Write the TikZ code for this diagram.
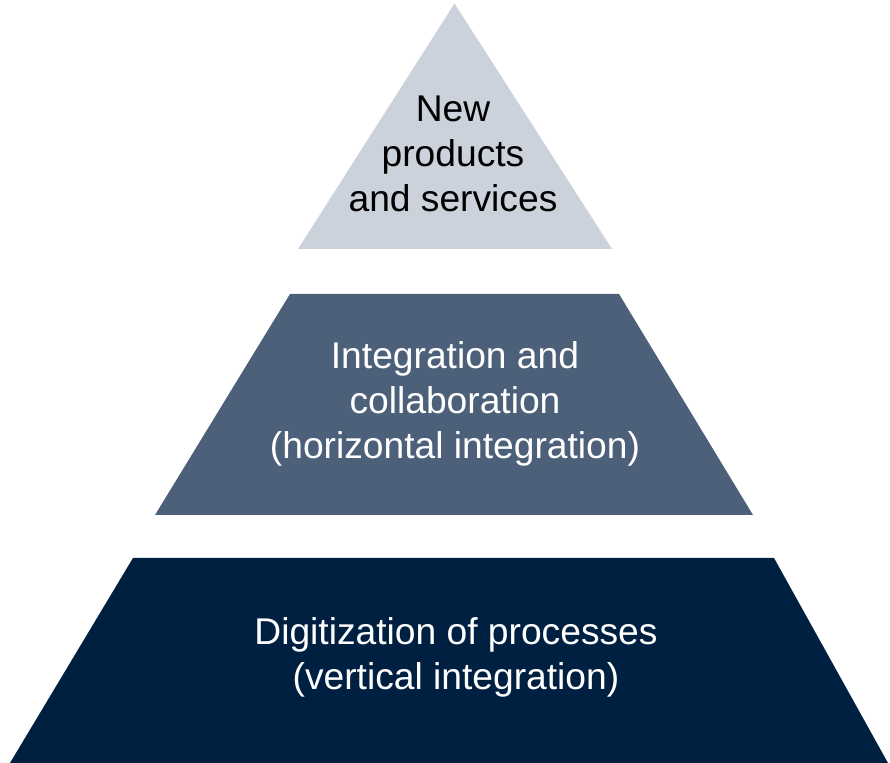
\documentclass[tikz,border=0pt]{standalone}
\usepackage{fontspec}
\setmainfont{Liberation Sans}
\definecolor{toplevel}{RGB}{203,210,219}
\definecolor{midlevel}{RGB}{77,96,122}
\definecolor{baselevel}{RGB}{0,32,65}

\begin{document}
\begin{tikzpicture}[x=0.5pt,y=-0.5pt,
  label/.style={align=center,font=\fontsize{18.6}{22.5}\selectfont,inner sep=0pt}]
\useasboundingbox (0,0) rectangle (890,763);

\fill[toplevel] (454.5,3.5) -- (612,249) -- (298,249) -- cycle;
\fill[midlevel] (290,294) -- (619,294) -- (753,515) -- (155,515) -- cycle;
\fill[baselevel] (133,558) -- (774,558) -- (888,763) -- (10,763) -- cycle;

\node[label,text=black] at (453,154) (top) {New\\products\\and services};
\node[label,text=white] at (455,404) (mid) {Integration and\\collaboration\\(horizontal integration)};
\node[label,text=white] at (456,657) (base) {Digitization of processes\\(vertical integration)};
\end{tikzpicture}
\end{document}
